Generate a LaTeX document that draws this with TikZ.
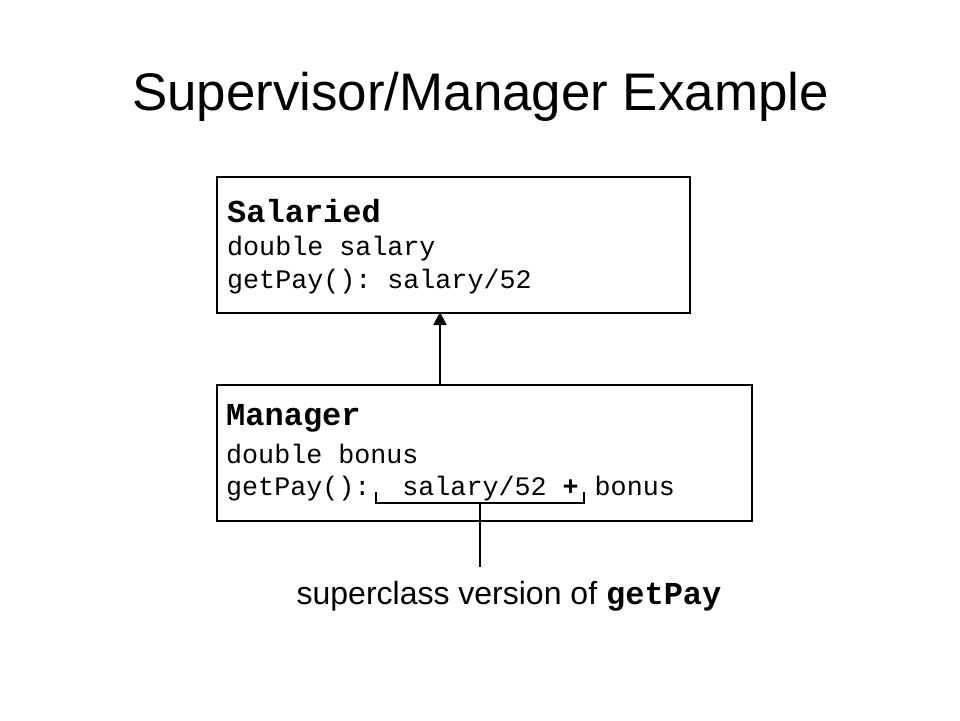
\documentclass[tikz,border=0pt]{standalone}
\usepackage{fontspec}
\setmainfont{Liberation Sans}
\setmonofont{Liberation Mono}
\usetikzlibrary{arrows.meta}
\begin{document}
\begin{tikzpicture}[x=1pt,y=-1pt,
  classbox/.style={draw=black,line width=2pt,minimum height=136pt,anchor=north west,inner sep=0pt},
  cname/.style={anchor=base west,inner sep=0pt,font=\fontsize{32}{36}\selectfont\ttfamily\bfseries},
  cline/.style={anchor=base west,inner sep=0pt,font=\fontsize{26.7}{30}\selectfont\ttfamily},
  thin/.style={line width=1.4pt}]
\useasboundingbox (0,0) rectangle (960,720);
\node[anchor=base,inner sep=0pt,font=\fontsize{52.9}{58}\selectfont] (title) at (480.5,110) {Supervisor/Manager Example};
% Salaried
\node[classbox,minimum width=473pt] (sal) at (216,176) {};
\node[cname] (salname) at (227,222) {Salaried};
\node[cline] (salf) at (227,255) {double salary};
\node[cline] (salm) at (227,288) {getPay(): salary/52};
% Manager
\node[classbox,minimum width=535pt] (man) at (216,384) {};
\node[cname] (manname) at (226,425) {Manager};
\node[cline] (manf) at (226,463) {double bonus};
\node[cline] (manm) at (226,495) {getPay():~~salary/52~\textbf{+}~bonus};
% inheritance arrow
\coordinate (arrtop) at (440,312);
\coordinate (arrbot) at (440,384);
\draw[line width=2pt,-{Triangle[length=13pt,width=13pt]}] (arrbot) -- (arrtop);
% bracket
\coordinate (bl) at (376,492);
\coordinate (br) at (584,492);
\coordinate (bc) at (480,503);
\coordinate (stemend) at (480,567);
\draw[thin] (bl) |- (bc) -| (br);
\draw[thin] (bc) -- (stemend);
\node[anchor=base,inner sep=0pt,font=\fontsize{32}{36}\selectfont] (label) at (509,604) {superclass version of \texttt{\bfseries getPay}};
\end{tikzpicture}
\end{document}
